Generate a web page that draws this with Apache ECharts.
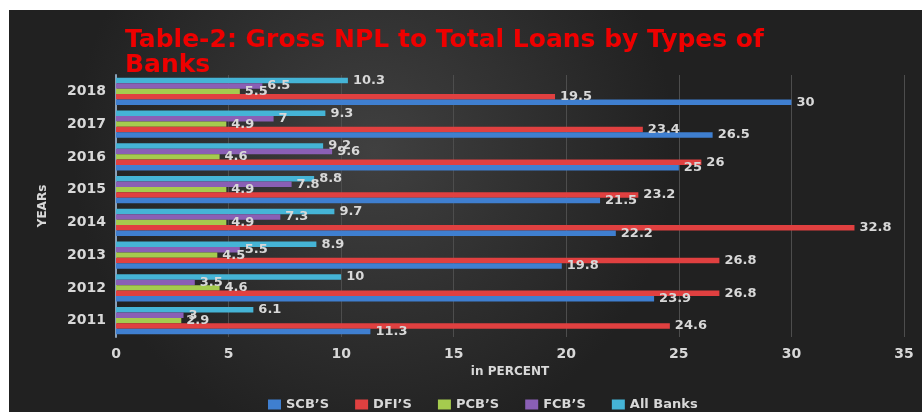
<!DOCTYPE html>
<html><head><meta charset="utf-8">
<script src="https://cdn.jsdelivr.net/npm/echarts@6/dist/echarts.min.js"></script>
<style>html,body{margin:0;padding:0;background:#fff}#c{width:922px;height:412px}</style>
</head><body><div id="c"></div>
<script>
const years = ['2011','2012','2013','2014','2015','2016','2017','2018'];
const scb = [11.3, 23.9, 19.8, 22.2, 21.5, 25, 26.5, 30];
const dfi = [24.6, 26.8, 26.8, 32.8, 23.2, 26, 23.4, 19.5];
const pcb = [2.9, 4.6, 4.5, 4.9, 4.9, 4.6, 4.9, 5.5];
const fcb = [3, 3.5, 5.5, 7.3, 7.8, 9.6, 7, 6.5];
const allBanks = [6.1, 10, 8.9, 9.7, 8.8, 9.2, 9.3, 10.3];
const seriesNames = ["SCB’S", "DFI’S", "PCB’S", "FCB’S", "All Banks"];
const seriesData = [scb, dfi, pcb, fcb, allBanks];
const colors = ['#3f7fd0', '#e04040', '#a5cb4e', '#8a5fb5', '#45b4d6'];

const font = '"DejaVu Sans", sans-serif';
const chart = echarts.init(document.getElementById('c'), null, {renderer: 'canvas'});
const series = [];
for (let i = seriesNames.length - 1; i >= 0; i--) {
  series.push({
    name: seriesNames[i],
    type: 'bar',
    data: seriesData[i],
    barGap: '0%',
    barCategoryGap: '17%',
    itemStyle: {color: colors[i]},
    label: {show: true, position: 'right', distance: 5, color: '#d8d8d8', fontFamily: font, fontSize: 13, fontWeight: 'bold'}
  });
}
chart.setOption({
  backgroundColor: '#ffffff',
  animation: false,
  graphic: [{
    type: 'rect', z: -10, silent: true,
    shape: {x: 9, y: 10, width: 913, height: 402},
    style: {fill: new echarts.graphic.RadialGradient(0.4, 0.35, 0.75, [
      {offset: 0, color: '#404040'}, {offset: 1, color: '#212121'}])}
  }],
  title: {
    text: 'Table-2: Gross NPL to Total Loans by Types of\nBanks',
    left: 120, top: 23,
    textStyle: {color: '#ee0000', fontFamily: font, fontWeight: 'bold', fontSize: 25, lineHeight: 25}
  },
  legend: {
    data: seriesNames,
    left: 263, top: 393,
    itemWidth: 13, itemHeight: 10, itemGap: 26,
    icon: 'rect',
    textStyle: {color: '#d8d8d8', fontFamily: font, fontSize: 13, fontWeight: 'bold'}
  },
  grid: {left: 116, right: 18, top: 75, bottom: 75},
  xAxis: {
    type: 'value', min: 0, max: 35, interval: 5,
    name: 'in PERCENT', nameLocation: 'middle', nameGap: 25,
    nameTextStyle: {color: '#d8d8d8', fontFamily: font, fontSize: 12, fontWeight: 'bold'},
    axisLine: {show: false}, axisTick: {show: false},
    axisLabel: {color: '#d8d8d8', fontFamily: font, fontSize: 14, fontWeight: 'bold', margin: 10},
    splitLine: {show: true, lineStyle: {color: '#4d4d4d', width: 1}}
  },
  yAxis: {
    type: 'category', data: years,
    name: 'YEARs', nameLocation: 'middle', nameGap: 67, nameRotate: 90,
    nameTextStyle: {color: '#d8d8d8', fontFamily: font, fontSize: 12, fontWeight: 'bold'},
    axisLine: {show: true, lineStyle: {color: '#8aa0b8', width: 2}},
    axisTick: {show: false},
    axisLabel: {color: '#d8d8d8', fontFamily: font, fontSize: 14, fontWeight: 'bold', margin: 10},
    splitLine: {show: false}
  },
  series: series
});
</script></body></html>
